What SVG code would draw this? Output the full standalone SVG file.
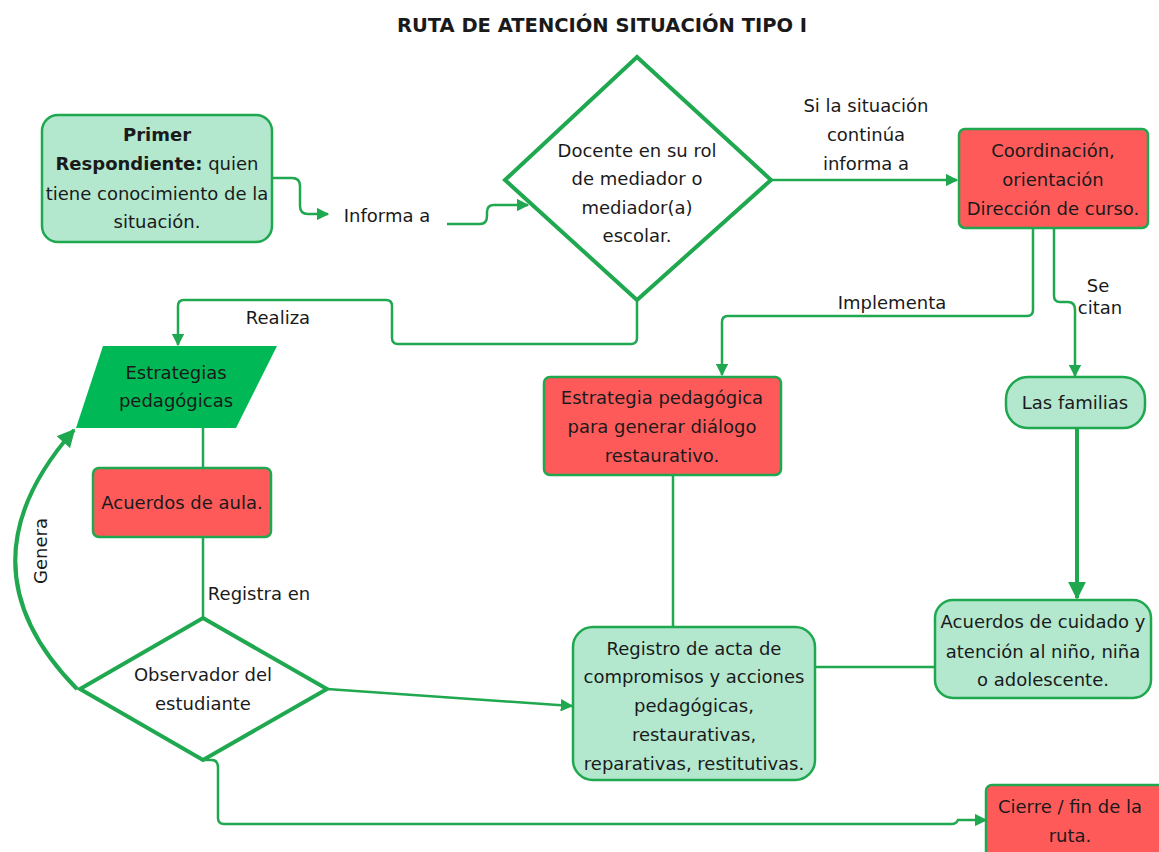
<svg xmlns="http://www.w3.org/2000/svg" width="1159" height="852" viewBox="0 0 1159 852">
<style>
text{font-family:"DejaVu Sans","Liberation Sans",sans-serif;font-size:18px;fill:#1a1a1a;text-anchor:middle}
.title{font-weight:bold;font-size:19.5px}
.light{fill:#b3e8cf;stroke:#1fa84f;stroke-width:2.5}
.red{fill:#ff5a5a;stroke:#1fa84f;stroke-width:2.5}
.dia{fill:#fff;stroke:#1fa84f;stroke-width:4}
.con{fill:none;stroke:#1fa84f;stroke-width:2.5}
.thick{fill:none;stroke:#1fa84f;stroke-width:4}
</style>
<defs>
<marker id="a" viewBox="0 0 10 10" refX="9" refY="5" markerWidth="5" markerHeight="5" orient="auto" markerUnits="strokeWidth"><path d="M0,0 L10,5 L0,10 z" fill="#1fa84f"/></marker>
<marker id="b" viewBox="0 0 10 10" refX="9" refY="5" markerWidth="4.5" markerHeight="4.5" orient="auto" markerUnits="strokeWidth"><path d="M0,0 L10,5 L0,10 z" fill="#1fa84f"/></marker>
</defs>
<rect width="1159" height="852" fill="#fff"/>
<text class="title" x="602" y="32">RUTA DE ATENCIÓN SITUACIÓN TIPO I</text>

<g id="connectors">
<path class="con" d="M272,178 H292 Q300,178 300,186 V206 Q300,214 308,214 H328" marker-end="url(#a)"/>
<path class="con" d="M447,224 H480 Q487,224 487,216 V212 Q487,205 494,205 H528" marker-end="url(#a)"/>
<path class="con" d="M771,180 H957" marker-end="url(#a)"/>
<path class="con" d="M1033,228 V310 Q1033,316 1027,316 H728 Q722,316 722,322 V375" marker-end="url(#a)"/>
<path class="con" d="M1054,228 V296 Q1054,302 1060,302 H1068 Q1075,302 1075,310 V376" marker-end="url(#a)"/>
<path class="thick" d="M1077,428 V598" marker-end="url(#b)"/>
<path class="con" d="M935,667 H815"/>
<path class="con" d="M673,475 V627"/>
<path class="con" d="M637,300 V338 Q637,344 631,344 H398 Q392,344 392,338 V306 Q392,300 386,300 H184 Q178,300 178,306 V345" marker-end="url(#a)"/>
<path class="con" d="M203,428 V468"/>
<path class="con" d="M203,537 V618"/>
<path class="thick" d="M77,689 Q-45,565 74,430" marker-end="url(#b)"/>
<path class="con" d="M327,689 L572,706" marker-end="url(#a)"/>
<path class="con" d="M203,760 H212 Q218,760 218,768 V818 Q218,824 224,824 H952 Q956,824 958,820 H986" marker-end="url(#a)"/>
<text x="866" y="112">Si la situación</text>
<text x="866" y="141">continúa</text>
<text x="866" y="170">informa a</text>
<text x="892" y="309">Implementa</text>
<text x="1098" y="292">Se</text>
<text x="1100" y="314">citan</text>
<text x="278" y="324">Realiza</text>
<text x="259" y="600">Registra en</text>
<text transform="translate(47,551) rotate(-90)">Genera</text>
</g>

<g id="n-primer">
<rect class="light" x="42" y="115" width="230" height="127" rx="16"/>
<text x="157" y="141" font-weight="bold">Primer</text>
<text x="157" y="170"><tspan font-weight="bold">Respondiente:</tspan> quien</text>
<text x="157" y="200">tiene conocimiento de la</text>
<text x="157" y="228">situación.</text>
</g>
<g id="n-informa">
<text x="387" y="222">Informa a</text>
</g>
<g id="n-docente">
<polygon class="dia" points="637,57 771,180 637,300 505,180"/>
<text x="637" y="157">Docente en su rol</text>
<text x="637" y="185">de mediador o</text>
<text x="637" y="214">mediador(a)</text>
<text x="637" y="242">escolar.</text>
</g>
<g id="n-coord">
<rect class="red" x="959" y="129" width="189" height="99" rx="6"/>
<text x="1053" y="157">Coordinación,</text>
<text x="1053" y="186">orientación</text>
<text x="1053" y="215">Dirección de curso.</text>
</g>
<g id="n-familias">
<rect class="light" x="1006" y="377" width="139" height="51" rx="22"/>
<text x="1075" y="409">Las familias</text>
</g>
<g id="n-cuidado">
<rect class="light" x="935" y="600" width="216" height="98" rx="18"/>
<text x="1043" y="628">Acuerdos de cuidado y</text>
<text x="1043" y="658">atención al niño, niña</text>
<text x="1043" y="686">o adolescente.</text>
</g>
<g id="n-estrategia-ped">
<rect class="red" x="544" y="377" width="237" height="98" rx="6"/>
<text x="662" y="404">Estrategia pedagógica</text>
<text x="662" y="433">para generar diálogo</text>
<text x="662" y="462">restaurativo.</text>
</g>
<g id="n-registro">
<rect class="light" x="573" y="627" width="242" height="153" rx="20"/>
<text x="694" y="655">Registro de acta de</text>
<text x="694" y="683">compromisos y acciones</text>
<text x="694" y="712">pedagógicas,</text>
<text x="694" y="741">restaurativas,</text>
<text x="694" y="770">reparativas, restitutivas.</text>
</g>
<g id="n-estrategias">
<polygon points="103,346 277,346 236,428 76,428" fill="#00b956"/>
<text x="176" y="379">Estrategias</text>
<text x="176" y="407">pedagógicas</text>
</g>
<g id="n-aula">
<rect class="red" x="93" y="468" width="178" height="69" rx="6"/>
<text x="182" y="509">Acuerdos de aula.</text>
</g>
<g id="n-observador">
<polygon class="dia" points="203,618 327,689 203,760 80,689"/>
<text x="203" y="681">Observador del</text>
<text x="203" y="710">estudiante</text>
</g>
<g id="n-cierre">
<rect class="red" x="986" y="785" width="180" height="80" rx="6"/>
<text x="1070" y="813">Cierre / fin de la</text>
<text x="1070" y="842">ruta.</text>
</g>
</svg>
